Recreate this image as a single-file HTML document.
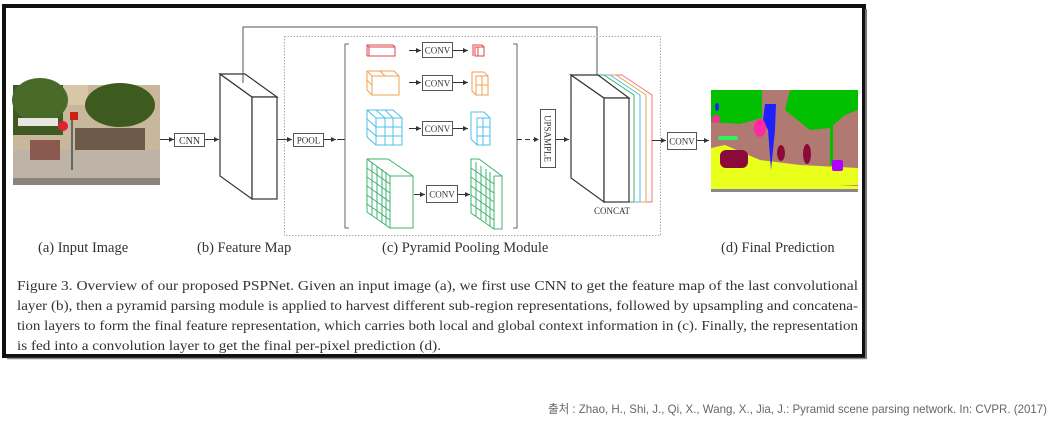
<!DOCTYPE html>
<html><head><meta charset="utf-8"><style>
html,body{margin:0;padding:0;background:#fff;width:1057px;height:421px;overflow:hidden}
svg{display:block}
.t{font-family:"Liberation Serif",serif;fill:#333}
</style></head><body>
<svg width="1057" height="421" viewBox="0 0 1057 421" xmlns="http://www.w3.org/2000/svg">
<defs>
<marker id="a" markerWidth="6" markerHeight="6" refX="5" refY="3" orient="auto"><path d="M0,0.5 L5,3 L0,5.5z" fill="#333"/></marker>
</defs>
<!-- frame -->
<rect x="4" y="6" width="860" height="350" fill="#fff" stroke="#111" stroke-width="4"/>
<line x1="866" y1="9" x2="866" y2="359" stroke="#777" stroke-width="2"/>
<line x1="7" y1="358.5" x2="866" y2="358.5" stroke="#888" stroke-width="1.5"/>

<!-- input image -->
<g>
<rect x="13" y="85" width="147" height="100" fill="#c9b79c"/>
<rect x="13" y="85" width="50" height="50" fill="#3f5a22"/>
<rect x="63" y="85" width="25" height="20" fill="#d8c6a8"/>
<ellipse cx="120" cy="105" rx="35" ry="22" fill="#3d5a1f"/>
<ellipse cx="40" cy="100" rx="28" ry="22" fill="#4a6a2a"/>
<rect x="18" y="118" width="40" height="8" fill="#e8e6e2"/>
<rect x="75" y="128" width="70" height="30" fill="#6d5a48"/>
<rect x="13" y="150" width="147" height="35" fill="#bdb3a6"/>
<rect x="13" y="178" width="147" height="7" fill="#8a847c"/>
<rect x="30" y="140" width="30" height="20" fill="#8a5a50"/>
<circle cx="63" cy="126" r="5" fill="#d23"/>
<rect x="70" y="112" width="8" height="8" fill="#c21"/>
<rect x="71" y="120" width="2" height="50" fill="#666"/>
</g>

<!-- CNN -->
<line x1="160" y1="139.5" x2="174" y2="139.5" stroke="#333" marker-end="url(#a)"/>
<rect x="174.5" y="133.5" width="30" height="13" fill="#fff" stroke="#555"/>
<text class="t" x="189.5" y="144" font-size="10" text-anchor="middle">CNN</text>
<line x1="205" y1="139.5" x2="219" y2="139.5" stroke="#333" marker-end="url(#a)"/>

<!-- feature map -->
<g fill="#fff" stroke="#333" stroke-width="1.2">
<polygon points="220,74 252,97 252,199 220,176"/>
<polygon points="220,74 245,74 277,97 252,97"/>
<rect x="252" y="97" width="25" height="102"/>
</g>
<!-- skip -->
<polyline points="243,83 243,27 597,27 597,82" fill="none" stroke="#555" stroke-width="1" marker-end="url(#a)"/>

<!-- dotted box -->
<rect x="284.5" y="36.5" width="376" height="199" fill="none" stroke="#aaa" stroke-dasharray="1.5,1.5"/>

<line x1="277" y1="139.5" x2="292" y2="139.5" stroke="#333" marker-end="url(#a)"/>
<rect x="293.5" y="133.5" width="30" height="13" fill="#fff" stroke="#555"/>
<text class="t" x="308.5" y="143.5" font-size="9" text-anchor="middle">POOL</text>
<line x1="324" y1="139.5" x2="336" y2="139.5" stroke="#333" marker-end="url(#a)"/>
<line x1="337" y1="139.5" x2="345" y2="139.5" stroke="#333"/>

<!-- brackets -->
<polyline points="349,44 345,44 345,228 349,228" fill="none" stroke="#666"/>
<polyline points="513,44 517,44 517,228 513,228" fill="none" stroke="#666"/>

<!-- red row -->
<g fill="none" stroke="#e0434a" stroke-width="1">
<rect x="369" y="47" width="26" height="9"/><polyline points="367,56 367,45 393,45 395,47"/><line x1="367" y1="45" x2="369" y2="47"/><line x1="367" y1="56" x2="369" y2="56"/>
<rect x="475" y="47" width="9" height="9"/><polyline points="473,56 473,45 482,45 484,47"/><line x1="478" y1="47" x2="478" y2="56"/>
</g>
<line x1="409" y1="50.5" x2="421" y2="50.5" stroke="#333" marker-end="url(#a)"/>
<rect x="422.5" y="42.5" width="30" height="15" fill="#fff" stroke="#555"/>
<text class="t" x="437.5" y="53.5" font-size="9" text-anchor="middle">CONV</text>
<line x1="453" y1="50.5" x2="468" y2="50.5" stroke="#333" marker-end="url(#a)"/>

<!-- orange row -->
<g fill="none" stroke="#f0a050" stroke-width="1">
<rect x="372" y="76" width="27" height="19"/><polyline points="372,95 367,90 367,71 394,71 399,76"/><line x1="367" y1="71" x2="372" y2="76"/>
<line x1="367" y1="80" x2="372" y2="85"/><line x1="380" y1="71" x2="385" y2="76"/>
<rect x="476" y="76" width="12" height="19"/><polyline points="476,95 472,91 472,72 484,72 488,76"/><line x1="482" y1="76" x2="482" y2="95"/><line x1="476" y1="85" x2="488" y2="85"/>
</g>
<line x1="409" y1="82.5" x2="421" y2="82.5" stroke="#333" marker-end="url(#a)"/>
<rect x="422.5" y="75.5" width="30" height="15" fill="#fff" stroke="#555"/>
<text class="t" x="437.5" y="86.5" font-size="9" text-anchor="middle">CONV</text>
<line x1="453" y1="82.5" x2="468" y2="82.5" stroke="#333" marker-end="url(#a)"/>

<!-- blue row -->
<g fill="none" stroke="#4fc0e8" stroke-width="1">
<polygon points="367,110 393,110 402,118 402,145 376,145 367,137"/>
<polyline points="367,110 376,118 402,118"/><line x1="376" y1="118" x2="376" y2="145"/>
<line x1="367" y1="119" x2="376" y2="127"/><line x1="367" y1="128" x2="376" y2="136"/>
<line x1="376" y1="127" x2="402" y2="127"/><line x1="376" y1="136" x2="402" y2="136"/>
<line x1="385" y1="118" x2="385" y2="145"/><line x1="393" y1="118" x2="393" y2="145"/>
<line x1="376" y1="110" x2="385" y2="118"/><line x1="385" y1="110" x2="393" y2="118"/>
<polygon points="471,112 484,112 490,118 490,145 477,145 471,139"/>
<line x1="477" y1="118" x2="477" y2="145"/><line x1="477" y1="118" x2="490" y2="118"/>
<line x1="477" y1="127" x2="490" y2="127"/><line x1="477" y1="136" x2="490" y2="136"/><line x1="483" y1="118" x2="483" y2="145"/>
</g>
<line x1="409" y1="128.5" x2="421" y2="128.5" stroke="#333" marker-end="url(#a)"/>
<rect x="422.5" y="121.5" width="30" height="14" fill="#fff" stroke="#555"/>
<text class="t" x="437.5" y="132" font-size="9" text-anchor="middle">CONV</text>
<line x1="453" y1="128.5" x2="468" y2="128.5" stroke="#333" marker-end="url(#a)"/>

<!-- green row -->
<g fill="none" stroke="#3cb371" stroke-width="1">
<polygon points="367,159 388,159 413,176 413,228 390,228 367,212"/>
<polyline points="367,159 390,176 413,176"/><line x1="390" y1="176" x2="390" y2="228"/>
<line x1="367" y1="168" x2="390" y2="184"/><line x1="367" y1="177" x2="390" y2="193"/><line x1="367" y1="186" x2="390" y2="202"/><line x1="367" y1="195" x2="390" y2="211"/><line x1="367" y1="204" x2="390" y2="220"/>
<line x1="372" y1="162" x2="372" y2="215"/><line x1="377" y1="166" x2="377" y2="219"/><line x1="382" y1="169" x2="382" y2="222"/><line x1="386" y1="172" x2="386" y2="225"/>
<polygon points="471,159 479,159 502,176 502,229 494,229 471,213"/>
<line x1="494" y1="176" x2="494" y2="229"/><line x1="494" y1="176" x2="502" y2="176"/>
<line x1="471" y1="168" x2="494" y2="184"/><line x1="471" y1="177" x2="494" y2="193"/><line x1="471" y1="186" x2="494" y2="202"/><line x1="471" y1="195" x2="494" y2="211"/><line x1="471" y1="204" x2="494" y2="220"/>
<line x1="476" y1="162" x2="476" y2="216"/><line x1="481" y1="166" x2="481" y2="219"/><line x1="486" y1="169" x2="486" y2="222"/><line x1="490" y1="172" x2="490" y2="226"/>
</g>
<line x1="414" y1="194.5" x2="425" y2="194.5" stroke="#333" marker-end="url(#a)"/>
<rect x="426.5" y="185.5" width="31" height="17" fill="#fff" stroke="#555"/>
<text class="t" x="442" y="197.5" font-size="9" text-anchor="middle">CONV</text>
<line x1="458" y1="194.5" x2="470" y2="194.5" stroke="#333" marker-end="url(#a)"/>

<!-- upsample -->
<line x1="517" y1="139.5" x2="539" y2="139.5" stroke="#333" stroke-dasharray="5,3" marker-end="url(#a)"/>
<rect x="540.5" y="109.5" width="15" height="58" fill="#fff" stroke="#555"/>
<text class="t" font-size="9" transform="translate(544.5,138.5) rotate(90)" text-anchor="middle">UPSAMPLE</text>
<line x1="556" y1="139.5" x2="569" y2="139.5" stroke="#333" marker-end="url(#a)"/>

<!-- concat -->
<g fill="none" stroke-width="1">
<polyline points="594,75 622,75 652,95 652,202 629,202" stroke="#f07a70"/>
<polyline points="594,75 616,75 646,95 646,202 629,202" stroke="#f0a050"/>
<polyline points="594,75 610,75 640,95 640,202 629,202" stroke="#4fc0e8"/>
<polyline points="594,75 604,75 634,95 634,202 629,202" stroke="#3cb371"/>
</g>
<g fill="#fff" stroke="#333" stroke-width="1.2">
<polygon points="571,75 604,98 604,202 571,178"/>
<polygon points="571,75 598,75 629,98 604,98"/>
<rect x="604" y="98" width="25" height="104"/>
</g>
<text class="t" x="612" y="214" font-size="9" text-anchor="middle">CONCAT</text>

<line x1="652" y1="140.5" x2="666" y2="140.5" stroke="#333" marker-end="url(#a)"/>
<rect x="667.5" y="132.5" width="29" height="17" fill="#fff" stroke="#555"/>
<text class="t" x="682" y="144.5" font-size="9" text-anchor="middle">CONV</text>
<line x1="697" y1="140.5" x2="709" y2="140.5" stroke="#333" marker-end="url(#a)"/>

<!-- prediction -->
<g>
<rect x="711" y="90" width="147" height="102" fill="#b07a72"/>
<path d="M711,90 L762,90 L762,118 L740,124 L711,122z" fill="#00c000"/>
<path d="M790,90 L858,90 L858,110 L845,115 L830,128 L810,130 L795,118 L785,110z" fill="#00c000"/>
<path d="M762,90 L790,90 L786,100 L770,98z" fill="#b07a72"/>
<rect x="830" y="115" width="3" height="50" fill="#00c000"/>
<path d="M711,148 L725,145 L760,160 L800,165 L858,168 L858,185 L800,188 L711,186z" fill="#e8ff1a"/>
<rect x="711" y="186" width="147" height="6" fill="#eeff30"/>
<rect x="711" y="189" width="147" height="3" fill="#888"/>
<rect x="720" y="150" width="28" height="18" rx="6" fill="#8b0a3a"/>
<ellipse cx="781" cy="153" rx="4" ry="8" fill="#8b0a3a"/>
<ellipse cx="807" cy="154" rx="4" ry="10" fill="#8b0a3a"/>
<path d="M765,104 L776,104 L775,130 L771,170 L768,130 L763,120z" fill="#2020ff"/>
<ellipse cx="760" cy="128" rx="6" ry="9" fill="#ff2aa0"/>
<ellipse cx="716" cy="119" rx="4" ry="4" fill="#ff2aa0"/>
<ellipse cx="717" cy="107" rx="2" ry="4" fill="#2020ff"/>
<rect x="718" y="136" width="20" height="4" rx="2" fill="#30f060"/>
<rect x="832" y="160" width="11" height="11" rx="2" fill="#b000ff"/>
</g>

<!-- labels -->
<g class="t" font-size="14.5" fill="#333">
<text x="38" y="252">(a) Input Image</text>
<text x="197" y="252">(b) Feature Map</text>
<text x="382" y="252">(c) Pyramid Pooling Module</text>
<text x="721" y="252">(d) Final Prediction</text>
</g>
<g class="t" font-size="14" fill="#111">
<text x="17" y="290" textLength="841" lengthAdjust="spacingAndGlyphs">Figure 3. Overview of our proposed PSPNet. Given an input image (a), we first use CNN to get the feature map of the last convolutional</text>
<text x="17" y="310" textLength="841" lengthAdjust="spacingAndGlyphs">layer (b), then a pyramid parsing module is applied to harvest different sub-region representations, followed by upsampling and concatena-</text>
<text x="17" y="330" textLength="841" lengthAdjust="spacingAndGlyphs">tion layers to form the final feature representation, which carries both local and global context information in (c). Finally, the representation</text>
<text x="17" y="350" textLength="424" lengthAdjust="spacingAndGlyphs">is fed into a convolution layer to get the final per-pixel prediction (d).</text>
</g>
<text x="548" y="413" font-family="'Liberation Sans','Noto Sans CJK KR',sans-serif" font-size="12" fill="#666" textLength="499" lengthAdjust="spacingAndGlyphs">출처 : Zhao, H., Shi, J., Qi, X., Wang, X., Jia, J.: Pyramid scene parsing network. In: CVPR. (2017)</text>
</svg>
</body></html>
